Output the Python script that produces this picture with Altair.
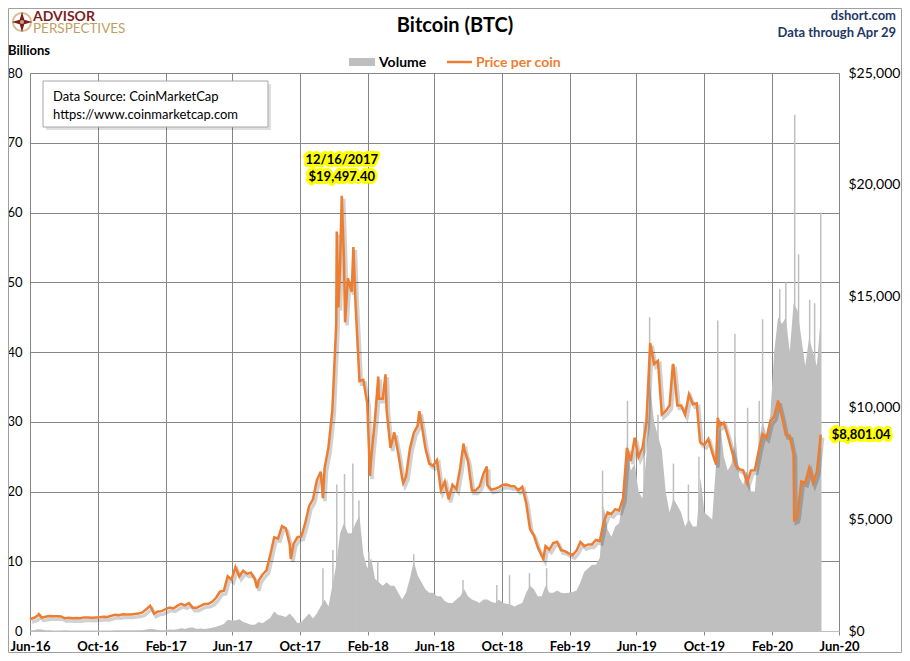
import altair as alt
import pandas as pd

# ---------------- data ----------------
# weekly BTC price (USD), one value per Wednesday
price_2016 = [537, 580, 690, 600, 640, 670, 660, 665, 655, 570, 590, 575, 580, 575,
              610, 610, 595, 605, 612, 636, 630, 680, 730, 710, 745, 740, 740,
              765, 780, 830, 975]
price_2017 = [1130, 780, 870, 890, 985, 1050, 1010, 1125, 1220, 1150, 1250, 1040, 1040,
              1130, 1210, 1220, 1310, 1490, 1760, 1800, 2450, 2300, 2860, 2450, 2700, 2570,
              2610, 2330, 2260, 2530, 2720, 3420, 4200, 4150, 4700, 4600, 3880, 3900, 4200,
              4230, 4830, 5590, 5900, 6750, 7140, 7300, 8230, 9890, 13750, 16400, 16600, 15800]
price_2018 = [15200, 14600, 11200, 11250, 10200, 7700, 9500, 10400, 10400, 9900, 8200, 8900, 7950,
              6850, 6900, 8150, 8860, 9200, 9300, 8200, 7500, 7400, 7650, 6300, 6700, 5900,
              6550, 6350, 7330, 8170, 7600, 6300, 6300, 6480, 7050, 6530, 6330, 6370, 6450,
              6550, 6560, 6500, 6480, 6310, 6460, 5740, 4570, 4280, 3750, 3390, 3800, 3650]
price_2019 = [3940, 4000, 3620, 3580, 3480, 3400, 3600, 3990, 3800, 3880, 3880, 4080, 4030,
              4880, 5310, 5240, 5460, 5400, 5940, 8200, 7620, 8660, 7800, 8200, 9270, 12900,
              11960, 12100, 9700, 9850, 10100, 11900, 10100, 10100, 9700, 10600, 10160, 10200, 8430,
              8340, 8600, 8000, 7460, 9200, 9340, 8760, 8120, 7430, 7250, 7200, 6640, 7190]
price_2020 = [7200, 8080, 8820, 8660, 9390, 9610, 10330, 9600, 8780, 8750, 7900, 5230, 6700,
              6640, 7300, 6640, 7120, 8801.04]

# extra daily extremes of the price line
price_extra_dates = ["2016-06-17", "2017-07-16", "2017-09-15", "2017-11-12", "2017-12-07",
                     "2017-12-10", "2017-12-16", "2017-12-22", "2018-01-06", "2018-02-05",
                     "2018-02-20", "2018-03-05", "2018-04-06", "2018-05-05", "2018-07-24",
                     "2018-09-04", "2018-12-15", "2019-08-06", "2019-09-24", "2019-10-26",
                     "2020-03-12", "2020-03-16"]
price_extra_values = [760, 1930, 3230, 5950, 17900, 14500, 19497.40, 13830, 17200, 6950,
                      11400, 11500, 6630, 9850, 8400, 7370, 3240, 11960, 8500, 9550,
                      4970, 5015]

# weekly volume (billions USD)
vol_2016 = [0.08, 0.12, 0.25, 0.2, 0.12, 0.1, 0.08, 0.07, 0.07, 0.12, 0.08, 0.07, 0.06, 0.06,
            0.06, 0.07, 0.07, 0.07, 0.07, 0.06, 0.06, 0.08, 0.11, 0.12, 0.1, 0.09, 0.1,
            0.1, 0.1, 0.12, 0.2]
vol_2017 = [0.3, 0.25, 0.15, 0.12, 0.15, 0.2, 0.18, 0.25, 0.4, 0.3, 0.45, 0.5, 0.3,
            0.35, 0.3, 0.35, 0.45, 0.6, 0.8, 1.0, 1.6, 1.5, 1.5, 1.7, 1.3, 1.1,
            0.9, 0.9, 1.3, 1.1, 1.5, 1.9, 2.8, 2.3, 2.2, 2.0, 2.5, 1.9, 1.1,
            1.3, 1.9, 2.5, 1.8, 2.5, 3.5, 4.5, 3.5, 6.5, 9.5, 14.0, 15.5, 14.0]
vol_2018 = [14.0, 15.5, 16.5, 11.0, 9.0, 10.5, 7.5, 7.0, 6.5, 7.0, 6.5, 6.5, 5.5,
            4.5, 5.5, 7.5, 10.0, 8.0, 7.0, 6.0, 5.5, 5.5, 5.0, 5.0, 4.3, 4.0,
            4.0, 4.5, 5.0, 6.0, 5.0, 4.5, 4.3, 4.0, 4.5, 4.5, 4.2, 4.0, 4.5,
            4.0, 3.9, 3.8, 3.5, 3.8, 4.0, 5.5, 6.5, 6.0, 5.0, 5.0, 6.5, 5.5]
vol_2019 = [5.5, 5.8, 5.5, 5.4, 5.5, 5.6, 5.8, 7.0, 8.5, 9.0, 9.5, 9.5, 10.5,
            18.0, 14.5, 13.5, 15.0, 15.5, 19.0, 27.0, 23.0, 24.0, 20.0, 19.0, 25.0, 35.0,
            30.0, 28.0, 26.0, 20.0, 17.0, 19.0, 18.0, 17.0, 15.0, 16.0, 15.0, 15.0, 22.0,
            17.0, 16.5, 16.0, 24.0, 30.0, 25.0, 23.0, 24.0, 28.0, 22.0, 21.0, 23.0, 20.0]
vol_2020 = [20.0, 27.0, 30.0, 28.0, 31.0, 40.0, 45.0, 44.0, 45.0, 40.0, 47.0, 46.0, 42.0,
            38.0, 42.0, 40.0, 38.0, 45.0]

# single-day volume spikes (billions USD)
spike_dates = ["2017-11-12", "2017-11-30", "2017-12-07", "2017-12-21", "2018-01-05",
               "2018-01-16", "2018-02-03", "2018-02-19", "2018-04-25", "2018-07-23",
               "2018-09-22", "2018-10-15", "2018-11-20", "2018-12-21", "2019-04-01",
               "2019-05-16", "2019-06-15", "2019-06-25", "2019-07-10", "2019-08-07",
               "2019-09-03", "2019-09-22", "2019-10-26", "2019-11-26", "2019-12-19",
               "2020-01-09", "2020-01-15", "2020-02-15", "2020-02-26", "2020-03-13",
               "2020-03-20", "2020-04-09", "2020-04-18", "2020-04-29"]
spike_values = [9.0, 11.6, 21.0, 22.5, 24.0, 18.7, 11.4, 10.0, 11.0, 7.3,
                6.6, 8.0, 8.3, 9.0, 23.0, 33.0, 30.0, 45.0, 31.0, 24.0,
                21.0, 25.0, 44.5, 42.6, 32.0, 33.0, 44.7, 49.0, 50.0, 74.0,
                54.0, 47.5, 47.0, 60.0]

x_tick_dates = ["2016-06-01", "2016-10-01", "2017-02-01", "2017-06-01", "2017-10-01",
                "2018-02-01", "2018-06-01", "2018-10-01", "2019-02-01", "2019-06-01",
                "2019-10-01", "2020-02-01", "2020-06-01"]
left_ticks = [0, 10, 20, 30, 40, 50, 60, 70, 80]
right_ticks = [0, 5000, 10000, 15000, 20000, 25000]

peak_date, peak_value = "2017-12-16", 19497.40
last_date, last_value = "2020-04-29", 8801.04

# ---------------- tables ----------------
year_starts = ["2016-06-01", "2017-01-04", "2018-01-03", "2019-01-02", "2020-01-01"]


def weekly(start, vals, col):
    d = pd.date_range(start, periods=len(vals), freq="7D")
    return pd.DataFrame({"date": d.strftime("%Y-%m-%d"), col: vals})


price_df = pd.concat(
    [weekly(s, v, "p") for s, v in zip(year_starts, [price_2016, price_2017, price_2018, price_2019, price_2020])]
    + [pd.DataFrame({"date": price_extra_dates, "p": price_extra_values})]
).sort_values("date").reset_index(drop=True)

vol_df = pd.concat(
    [weekly(s, v, "v") for s, v in zip(year_starts, [vol_2016, vol_2017, vol_2018, vol_2019, vol_2020])]
).reset_index(drop=True)

spike_df = pd.DataFrame({"date": spike_dates, "v": spike_values})


def dt(s):
    return alt.DateTime(year=int(s[:4]), month=int(s[5:7]), date=int(s[8:10]), utc=True)


FONT = "Lato"
GRID = "#868686"
ORANGE = "#ED7D31"
VOLGRAY = "#BFBFBF"

# canvas geometry (page has an 8px margin; keep the whole page inside 910 x 661)
PAD_L, PAD_T, PAD_R, PAD_B = 22, 65, 63, 22
W, H = 809, 558

X = alt.X("date:T",
          scale=alt.Scale(type="utc", domain=[dt(x_tick_dates[0]), dt(x_tick_dates[-1])], nice=False),
          axis=alt.Axis(values=[dt(s) for s in x_tick_dates], format="%b-%y", title=None,
                        grid=True, gridColor=GRID, gridWidth=1, tickColor=GRID, tickSize=4,
                        domainColor="#BFBFBF", labelFontWeight="bold", labelFontSize=13,
                        labelPadding=5, labelColor="#000000", labelFont=FONT,
                        labelFlush=False, labelOverlap=False))

YL = alt.Y("v:Q", scale=alt.Scale(domain=[0, 80], nice=False),
           axis=alt.Axis(values=left_ticks, title=None, grid=True, gridColor=GRID, gridWidth=1,
                         ticks=False, domain=False, labelPadding=8, labelFontSize=13,
                         labelColor="#000000", labelFont=FONT, orient="left",
                         labelFlush=False, labelOverlap=False))

YR = alt.Y("p:Q", scale=alt.Scale(domain=[0, 25000], nice=False),
           axis=alt.Axis(values=right_ticks, format="$,.0f", title=None, grid=False,
                         ticks=False, domain=False, labelPadding=9, labelFontSize=14,
                         labelColor="#000000", labelFont=FONT, orient="right",
                         labelFlush=False, labelOverlap=False))

area = alt.Chart(vol_df).mark_area(color=VOLGRAY, opacity=1, interpolate="linear").encode(x=X, y=YL)
spikes = alt.Chart(spike_df).mark_rule(color=VOLGRAY, strokeWidth=1.5).encode(x=X, y=YL, y2=alt.datum(0))


def txt(s, x, y, size=13, weight="normal", color="#000000", align="left"):
    return alt.Chart(pd.DataFrame({"t": [s]})).mark_text(
        font=FONT, fontSize=size, fontWeight=weight, color=color, align=align, baseline="alphabetic"
    ).encode(x=alt.value(x), y=alt.value(y), text="t:N")


def box(x1, x2, y1, y2, **kw):
    return alt.Chart(pd.DataFrame({"a": [0]})).mark_rect(**kw).encode(
        x=alt.value(x1), x2=alt.value(x2), y=alt.value(y1), y2=alt.value(y2))


border = box(-PAD_L + 0.5, W + PAD_R - 0.5, -PAD_T + 0.5, H + PAD_B - 0.5,
             fill="transparent", stroke="#A0A0A0", strokeWidth=1)

# header / logo
logo_ring = alt.Chart(pd.DataFrame({"a": [0]})).mark_point(
    shape="circle", size=330, filled=False, color="#C9A464", strokeWidth=2
).encode(x=alt.value(-8), y=alt.value(-51))
logo_star = alt.Chart(pd.DataFrame({"a": [0]})).mark_point(
    shape="M0,-1L0.22,-0.22L1,0L0.22,0.22L0,1L-0.22,0.22L-1,0L-0.22,-0.22Z",
    size=420, filled=True, color="#7B1E22", opacity=1
).encode(x=alt.value(-8), y=alt.value(-51))
logo_dot = alt.Chart(pd.DataFrame({"a": [0]})).mark_point(
    shape="circle", size=18, filled=True, color="#C9A464", opacity=1
).encode(x=alt.value(-8), y=alt.value(-51))

title = txt("Bitcoin (BTC)", 425, -41, size=20, weight="bold", align="center")
site = txt("dshort.com", 866, -53, size=13, weight="bold", color="#1F3864", align="right")
thru = txt("Data through Apr 29", 866, -36, size=13, weight="bold", color="#1F3864", align="right")
adv = txt("ADVISOR", 3, -52, size=14, weight="bold", color="#7B1E22")
persp = txt("PERSPECTIVES", 3, -40, size=13.5, color="#BFA063")
billions = txt("Billions", -22, -18, size=13, weight="bold")

# legend
leg_rect = box(319, 345, -15, -7, fill=VOLGRAY)
leg_vol = txt("Volume", 349, -6, size=14, weight="bold")
leg_line = alt.Chart(pd.DataFrame({"a": [0]})).mark_rule(color=ORANGE, strokeWidth=2.5).encode(
    x=alt.value(417), x2=alt.value(442), y=alt.value(-11))
leg_price = txt("Price per coin", 446, -6, size=14, weight="bold", color=ORANGE)

# data source box
src_shadow = box(16, 241, 11, 57, fill="#000000", opacity=0.12)
src_box = box(13, 238, 8, 54, fill="#FFFFFF", stroke="#A6A6A6", strokeWidth=1)
src1 = txt("Data Source: CoinMarketCap", 23, 28, size=13)
src2 = txt("https://www.coinmarketcap.com", 23, 46, size=13)

left = alt.layer(area, spikes, border, logo_ring, logo_star, logo_dot, title, site, thru, adv, persp,
                 billions, leg_rect, leg_vol, leg_line, leg_price, src_shadow, src_box, src1, src2)

# price line with drop shadow
shadow = alt.Chart(price_df).mark_line(color="#000000", opacity=0.18, strokeWidth=3.5,
                                       xOffset=2, yOffset=3, interpolate="linear").encode(x=X, y=YR)
line = alt.Chart(price_df).mark_line(color=ORANGE, strokeWidth=2.5, interpolate="linear").encode(x=X, y=YR)


def note(s, d, v, dx, dy, align):
    df = pd.DataFrame({"date": [d], "p": [v], "t": [s]})
    glow = alt.Chart(df).mark_text(font=FONT, fontSize=13, fontWeight="bold", fill="#FFFF00",
                                   stroke="#FFFF00", strokeWidth=6, strokeJoin="round",
                                   align=align, baseline="alphabetic", dx=dx, dy=dy
                                   ).encode(x=X, y=YR, text="t:N")
    front = alt.Chart(df).mark_text(font=FONT, fontSize=13, fontWeight="bold", color="#000000",
                                    align=align, baseline="alphabetic", dx=dx, dy=dy
                                    ).encode(x=X, y=YR, text="t:N")
    return [glow, front]


peak_label = pd.Timestamp(peak_date).strftime("%m/%d/%Y")
notes = (note(peak_label, peak_date, peak_value, 0, -32, "center")
         + note(f"${peak_value:,.2f}", peak_date, peak_value, 0, -15, "center")
         + note(f"${last_value:,.2f}", last_date, last_value, 11, 4, "left"))

right = alt.layer(shadow, line, *notes)

chart = alt.layer(left, right).resolve_scale(y="independent").properties(
    width=W, height=H,
    autosize=alt.AutoSizeParams(type="none"),
    padding={"left": PAD_L, "top": PAD_T, "right": PAD_R, "bottom": PAD_B},
).configure_view(strokeWidth=0).configure(background="#FFFFFF")

chart.save("out.html", embed_options={"renderer": "svg", "actions": False})
